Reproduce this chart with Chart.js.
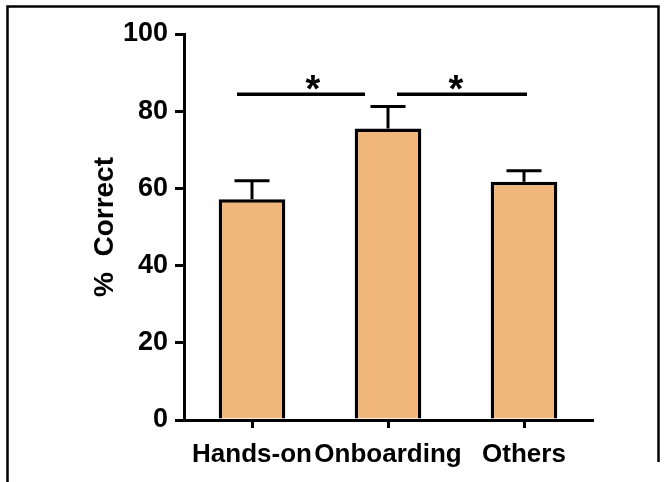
<!DOCTYPE html>
<html><head><meta charset="utf-8">
<script src="https://cdn.jsdelivr.net/npm/chart.js@4"></script>
<style>html,body{margin:0;padding:0;background:#fff}#wrap{width:667px;height:482px;position:relative}</style>
</head><body><div id="wrap"><canvas id="c" width="667" height="482"></canvas></div>
<script>
// ---- data ----
const categories = ['Hands-on', 'Onboarding', 'Others'];
const meanCorrect = [57.2, 75.5, 61.7];
const errUpper = [4.8, 5.7, 2.9];
const yTicks = [0, 20, 40, 60, 80, 100];
const sigPairs = [[0, 1], [1, 2]];
const sigLevel = 84.4;
const sigMarks = ['*', '*'];

const FONT = '"Liberation Sans", Arial, Helvetica, sans-serif';

const overlay = {
  id: 'overlay',
  afterDatasetsDraw(chart) {
    const ctx = chart.ctx;
    const xs = chart.scales.x, ys = chart.scales.y;
    ctx.save();
    ctx.strokeStyle = '#000';
    ctx.fillStyle = '#000';
    ctx.lineWidth = 3;
    ctx.lineCap = 'butt';
    // error bars (upper only)
    meanCorrect.forEach((m, i) => {
      const x = xs.getPixelForValue(i);
      const yTop = ys.getPixelForValue(m);
      const yCap = ys.getPixelForValue(m + errUpper[i]);
      ctx.beginPath();
      ctx.moveTo(x, yTop);
      ctx.lineTo(x, yCap);
      ctx.moveTo(x - 17.5, yCap);
      ctx.lineTo(x + 17.5, yCap);
      ctx.stroke();
    });
    // significance lines
    const insets = [[-15, -23], [9, 3]];
    const starDx = [-7, 0];
    const yl = ys.getPixelForValue(sigLevel);
    ctx.lineWidth = 3.5;
    sigPairs.forEach((p, k) => {
      const x1 = xs.getPixelForValue(p[0]) + insets[k][0];
      const x2 = xs.getPixelForValue(p[1]) + insets[k][1];
      ctx.beginPath();
      ctx.moveTo(x1, yl);
      ctx.lineTo(x2, yl);
      ctx.stroke();
      ctx.font = 'bold 38px ' + FONT;
      ctx.textAlign = 'center';
      ctx.textBaseline = 'alphabetic';
      const mt = ctx.measureText(sigMarks[k]);
      const target = yl - 12;
      const yb = target - (mt.actualBoundingBoxDescent - mt.actualBoundingBoxAscent) / 2;
      const xm = (xs.getPixelForValue(p[0]) + xs.getPixelForValue(p[1])) / 2 + starDx[k];
      ctx.fillText(sigMarks[k], xm, yb);
    });
    // frame
    ctx.lineWidth = 2.5;
    ctx.beginPath();
    ctx.moveTo(7.5, 482);
    ctx.lineTo(7.5, 6.5);
    ctx.lineTo(658.5, 6.5);
    ctx.lineTo(658.5, 462);
    ctx.stroke();
    ctx.restore();
  }
};

new Chart(document.getElementById('c'), {
  type: 'bar',
  data: {
    labels: categories,
    datasets: [{
      data: meanCorrect,
      backgroundColor: '#F0B67A',
      borderColor: '#000',
      borderWidth: 3.5,
      barPercentage: 0.49,
      categoryPercentage: 1.0
    }]
  },
  options: {
    responsive: false,
    devicePixelRatio: 1,
    animation: false,
    layout: { padding: { left: 0, top: 34, right: 75, bottom: 0 } },
    plugins: { legend: { display: false }, tooltip: { enabled: false } },
    scales: {
      x: {
        type: 'category',
        offset: true,
        grid: { offset: false, drawOnChartArea: false, drawTicks: true, tickLength: 8, lineWidth: 3, color: '#000' },
        border: { display: true, color: '#000', width: 3 },
        ticks: { color: '#000', font: { family: FONT, size: 26, weight: 'bold' }, padding: 11, maxRotation: 0, autoSkip: false },
        afterFit(s) { s.height = 62; }
      },
      y: {
        min: 0, max: 100,
        afterBuildTicks(s) { s.ticks = yTicks.map(v => ({ value: v })); },
        grid: { drawOnChartArea: false, drawTicks: true, tickLength: 9, lineWidth: 3, color: '#000' },
        border: { display: true, color: '#000', width: 3 },
        ticks: { color: '#000', font: { family: FONT, size: 27, weight: 'bold' }, padding: 7 },
        title: { display: true, text: '%  Correct', color: '#000', font: { family: FONT, size: 28, weight: 'bold' }, padding: { top: 88, bottom: 0 } },
        afterFit(s) { s.width = 184; }
      }
    }
  },
  plugins: [overlay]
});
</script>
</body></html>
